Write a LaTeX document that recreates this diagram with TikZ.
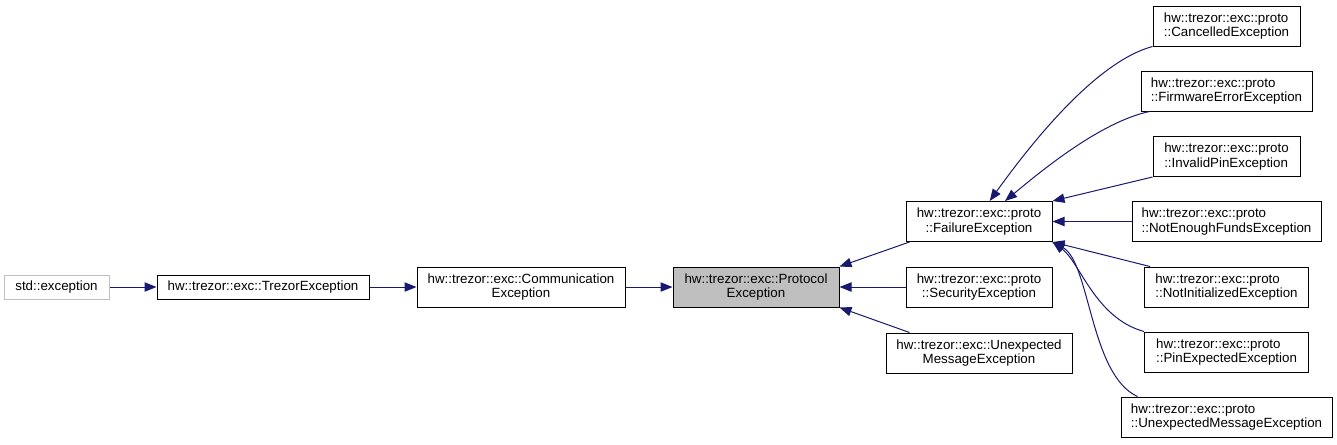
\documentclass[tikz,border=0pt]{standalone}
\usepackage{fontspec}
\setmainfont{Liberation Sans}
\usetikzlibrary{arrows.meta}

\definecolor{edgeblue}{RGB}{25,25,112}
\definecolor{basegray}{RGB}{191,191,191}

\begin{document}
\begin{tikzpicture}[x=0.75pt,y=-0.75pt,
    cls/.style={draw=black,line width=0.75pt,fill=white,inner sep=0pt,
      minimum height=30pt,font=\fontsize{10}{11}\selectfont,align=center},
    leaf/.style={cls,align=left},
    inh/.style={draw=edgeblue,line width=0.75pt,{Triangle[length=9pt,width=7pt]}-}]

  % Whole canvas (pixel units, y down)
  \useasboundingbox (0,0) rectangle (1337,444);

  % Base chain
  \node[cls,draw=basegray,minimum width=78.75pt,minimum height=18pt] (stdexc) at (56.5,287) {std::exception};
  \node[cls,minimum width=159pt,minimum height=18pt] (trezor) at (263,287) {hw::trezor::exc::TrezorException};
  \node[cls,minimum width=156pt] (comm) at (521,287) {hw::trezor::exc::Communication\\Exception};
  \node[cls,fill=basegray,minimum width=124.5pt] (proto) at (756,287) {hw::trezor::exc::Protocol\\Exception};

  % Middle column
  \node[cls,minimum width=109.5pt] (failure) at (979,221.5) {hw::trezor::exc::proto\\::FailureException};
  \node[cls,minimum width=109.5pt] (security) at (979,287) {hw::trezor::exc::proto\\::SecurityException};
  \node[cls,minimum width=139.5pt] (unexpmsg) at (979,353) {hw::trezor::exc::Unexpected\\MessageException};

  % Right column, one row every 65px
  \foreach \name/\w/\y/\label in {
      cancelled/110.25/26/CancelledException,
      firmware/128.25/91/FirmwareErrorException,
      invalidpin/110.25/156.5/InvalidPinException,
      notenough/141.75/221.5/NotEnoughFundsException,
      notinit/123/287/NotInitializedException,
      pinexp/123/352/PinExpectedException,
      unexpproto/158.25/417/UnexpectedMessageException}{
    \node[leaf,minimum width=\w pt] (\name) at (1226.5,\y) {hw::trezor::exc::proto\\::\label};
  }

  % Inheritance edges, base <- derived
  \draw[inh] (trezor) -- (stdexc);
  \draw[inh] (comm) -- (trezor);
  \draw[inh] (proto) -- (comm);
  \draw[inh] (proto.north east) -- ([xshift=3pt]failure.south west);
  \draw[inh] (proto) -- (security);
  \draw[inh] (proto.south east) -- ([xshift=18pt]unexpmsg.north west);

  \draw[inh] ([xshift=8pt]failure.north) .. controls (1030,145) and (1095,62) .. (cancelled.south west);
  \draw[inh] ([xshift=19.5pt]failure.north) .. controls (1040,172) and (1100,122) .. ([xshift=6.75pt]firmware.south west);
  \draw[inh] (failure.north east) -- (invalidpin.south west);
  \draw[inh] (failure) -- (notenough);
  \draw[inh] (failure.south east) -- ([xshift=4.5pt]notinit.north west);
  \draw[inh] (failure.south east) .. controls (1080,262) and (1095,318) .. (pinexp.north west);
  \draw[inh] (failure.south east) .. controls (1090,262) and (1090,375) .. ([xshift=12.75pt]unexpproto.north west);

\end{tikzpicture}
\end{document}
